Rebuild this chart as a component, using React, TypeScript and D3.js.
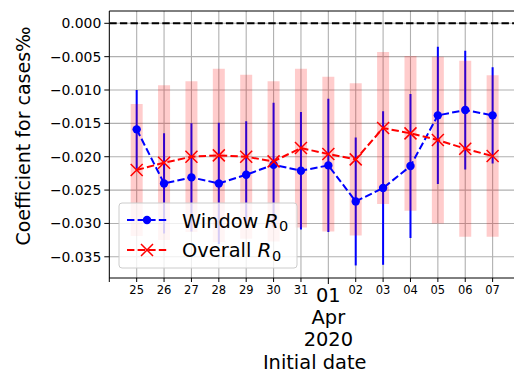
import * as d3 from "d3";

// initial dates of each window (Mar 25 – Apr 7, 2020)
const dates = [
  "2020-03-25", "2020-03-26", "2020-03-27", "2020-03-28", "2020-03-29",
  "2020-03-30", "2020-03-31", "2020-04-01", "2020-04-02", "2020-04-03",
  "2020-04-04", "2020-04-05", "2020-04-06", "2020-04-07",
];

const windowR0 = [
  -0.0159, -0.024, -0.0231, -0.024, -0.0227, -0.0212, -0.0221,
  -0.0213, -0.0267, -0.0247, -0.0214, -0.0138, -0.013, -0.0138,
];
const windowErr = [
  0.0059, 0.0075, 0.0081, 0.0091, 0.008, 0.0093, 0.0088,
  0.01, 0.0096, 0.0115, 0.0108, 0.0103, 0.0089, 0.0072,
];

const overallR0 = [
  -0.022, -0.0209, -0.02, -0.0198, -0.02, -0.0207, -0.0187,
  -0.0196, -0.0204, -0.0157, -0.0165, -0.0175, -0.0188, -0.0199,
];
const overallErr = [
  0.0099, 0.0116, 0.0113, 0.013, 0.0123, 0.012, 0.0119,
  0.0116, 0.0114, 0.0114, 0.0116, 0.0125, 0.0132, 0.0121,
];

const yTicks = [0, -0.005, -0.01, -0.015, -0.02, -0.025, -0.03, -0.035];

const width = 514;
const height = 372;
const plot = { left: 109.3, right: 520, top: 11, bottom: 278 };
const font = "DejaVu Sans";
const big = 19.4;

const parse = d3.timeParse("%Y-%m-%d");

const x = d3
  .scaleTime()
  .domain([parse("2020-03-24")!, parse("2020-04-08")!])
  .range([plot.left, plot.right]);

const y = d3
  .scaleLinear()
  .domain([0.001844, -0.03818])
  .range([plot.top, plot.bottom]);

const fmtY = (v: number) => (v === 0 ? "0.000" : d3.format(".3f")(v).replace("-", "\u2212"));

const App = () => {
  const pts = dates.map((d, i) => ({
    t: parse(d)!,
    w: windowR0[i],
    we: windowErr[i],
    o: overallR0[i],
    oe: overallErr[i],
  }));
  const dayTicks = x.ticks(d3.timeDay.every(1)!).filter((d) => x(d) <= plot.right - 1);

  const lineW = d3
    .line<(typeof pts)[0]>()
    .x((d) => x(d.t))
    .y((d) => y(d.w));
  const lineO = d3
    .line<(typeof pts)[0]>()
    .x((d) => x(d.t))
    .y((d) => y(d.o));

  const xMark = (cx: number, cy: number, s: number, key?: any) => (
    <path
      key={key}
      d={`M${cx - s},${cy - s}L${cx + s},${cy + s}M${cx - s},${cy + s}L${cx + s},${cy - s}`}
      stroke="#ff0000"
      strokeWidth={1.5}
      fill="none"
    />
  );

  const apr1 = parse("2020-04-01")!;

  return (
    <svg
      width={width}
      height={height}
      style={{ position: "absolute", left: 0, top: 0, background: "#fff" }}
      fontFamily={font}
    >
      <defs>
        <clipPath id="plotArea">
          <rect x={plot.left} y={plot.top} width={plot.right - plot.left} height={plot.bottom - plot.top} />
        </clipPath>
      </defs>
      <g clipPath="url(#plotArea)">
        {/* grid */}
        {dayTicks.map((d, i) => (
          <line key={"gx" + i} x1={x(d)} x2={x(d)} y1={plot.top} y2={plot.bottom} stroke="#b0b0b0" strokeWidth={1.1} />
        ))}
        {yTicks.map((v, i) => (
          <line key={"gy" + i} x1={plot.left} x2={plot.right} y1={y(v)} y2={y(v)} stroke="#b0b0b0" strokeWidth={1.1} />
        ))}
        {/* zero reference */}
        <line x1={plot.left} x2={plot.right} y1={y(0)} y2={y(0)} stroke="#000" strokeWidth={2} strokeDasharray="7.4,3.2" />

        {/* window error bars */}
        {pts.map((d, i) => (
          <line key={"we" + i} x1={x(d.t)} x2={x(d.t)} y1={y(d.w + d.we)} y2={y(d.w - d.we)} stroke="#0000ff" strokeWidth={2} />
        ))}
        {/* overall error bands */}
        {pts.map((d, i) => (
          <line key={"oe" + i} x1={x(d.t)} x2={x(d.t)} y1={y(d.o + d.oe)} y2={y(d.o - d.oe)} stroke="#ff0000" strokeOpacity={0.2} strokeWidth={12} />
        ))}

        <path d={lineW(pts)!} fill="none" stroke="#0000ff" strokeWidth={2} strokeDasharray="7.4,3.2" />
        {pts.map((d, i) => (
          <circle key={"wc" + i} cx={x(d.t)} cy={y(d.w)} r={4.2} fill="#0000ff" />
        ))}
        <path d={lineO(pts)!} fill="none" stroke="#ff0000" strokeWidth={2} strokeDasharray="7.4,3.2" />
        {pts.map((d, i) => xMark(x(d.t), y(d.o), 6, "oc" + i))}
      </g>

      {/* legend */}
      <g>
        <rect x={119} y={203} width={178} height={65} rx={3} fill="#fff" fillOpacity={0.8} stroke="#cccccc" strokeWidth={1} />
        <line x1={127} x2={167} y1={220} y2={220} stroke="#0000ff" strokeWidth={2} strokeDasharray="7.4,3.2" />
        <circle cx={147} cy={220} r={4.2} fill="#0000ff" />
        <text x={182} y={227.5} fontSize={big}>
          Window <tspan fontStyle="italic" fontSize={20}>R</tspan>
          <tspan fontSize={14.5} dx={0.5} dy={3.8}>0</tspan>
        </text>
        <line x1={127} x2={167} y1={250} y2={250} stroke="#ff0000" strokeWidth={2} strokeDasharray="7.4,3.2" />
        {xMark(147, 250, 6)}
        <text x={182} y={257} fontSize={big}>
          Overall <tspan fontStyle="italic" fontSize={20}>R</tspan>
          <tspan fontSize={14.5} dx={0.5} dy={3.8}>0</tspan>
        </text>
      </g>

      {/* spines */}
      <line x1={plot.left} x2={plot.left} y1={plot.top} y2={plot.bottom} stroke="#000" strokeWidth={1} />
      <line x1={plot.left} x2={plot.right} y1={plot.top} y2={plot.top} stroke="#000" strokeWidth={1} />
      <line x1={plot.left} x2={plot.right} y1={plot.bottom} y2={plot.bottom} stroke="#000" strokeWidth={1} />

      {/* y axis */}
      {yTicks.map((v, i) => (
        <g key={"yt" + i}>
          <line x1={plot.left - 5} x2={plot.left} y1={y(v)} y2={y(v)} stroke="#000" strokeWidth={1} />
          <text x={plot.left - 8} y={y(v)} dy="0.36em" textAnchor="end" fontSize={13.9}>
            {fmtY(v)}
          </text>
        </g>
      ))}
      <text
        transform={`translate(23,136) rotate(-90)`}
        textAnchor="middle"
        dy="0.36em"
        fontSize={19}
      >
        Coefficient for cases‰
      </text>

      {/* x axis */}
      {dayTicks.map((d, i) => {
        const major = +d === +apr1;
        return (
          <g key={"xt" + i}>
            <line x1={x(d)} x2={x(d)} y1={plot.bottom} y2={plot.bottom + (major ? 6 : 4)} stroke="#000" strokeWidth={1} />
            {!major && +d !== +x.domain()[0] && (
              <text x={x(d)} y={294} textAnchor="middle" fontSize={11.5}>
                {d3.timeFormat("%d")(d)}
              </text>
            )}
          </g>
        );
      })}
      <text x={x(apr1)} y={301.5} textAnchor="middle" fontSize={big}>
        {d3.timeFormat("%d")(apr1)}
      </text>
      <text x={x(apr1)} y={324} textAnchor="middle" fontSize={big}>
        {d3.timeFormat("%b")(apr1)}
      </text>
      <text x={x(apr1)} y={346} textAnchor="middle" fontSize={big}>
        {d3.timeFormat("%Y")(apr1)}
      </text>
      <text x={(plot.left + plot.right) / 2} y={369} textAnchor="middle" fontSize={big}>
        Initial date
      </text>
    </svg>
  );
};

export default App;
